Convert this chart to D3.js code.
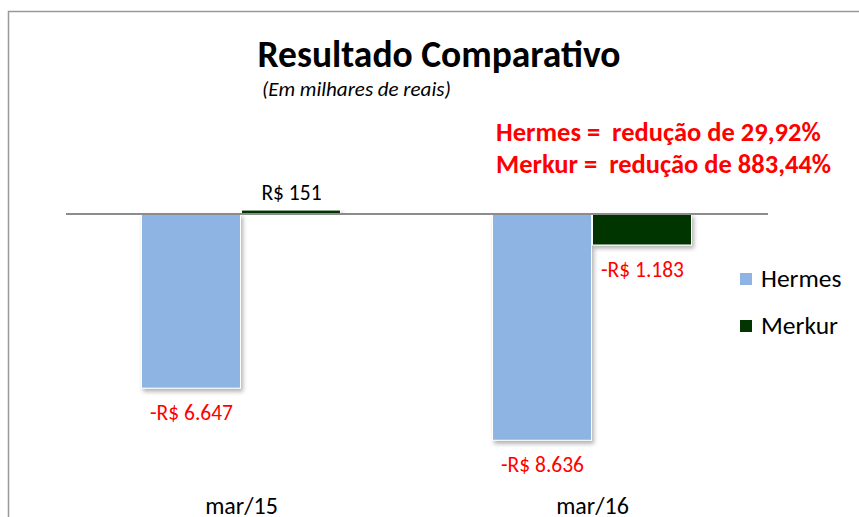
<!DOCTYPE html>
<html>
<head>
<meta charset="utf-8">
<script src="https://cdn.jsdelivr.net/npm/d3@7"></script>
<style>
  body { margin: 0; background: #fff; }
  text { font-family: Carlito, Lato, "Open Sans", sans-serif; }
</style>
</head>
<body>
<script>
// data
let categories = ["mar/15", "mar/16"];
let seriesNames = ["Hermes", "Merkur"];
let hermesValues = [-6647, -8636];
let merkurValues = [151, -1183];
let valueLabels = [["-R$ 6.647", "-R$ 8.636"], ["R$ 151", "-R$ 1.183"]];
let notes = ["Hermes =  redução de 29,92%", "Merkur =  redução de 883,44%"];
let colors = ["#8EB4E3", "#033503"];

var width = 859, height = 517;

var svg = d3.select("body").append("svg")
    .attr("width", width)
    .attr("height", height);

var defs = svg.append("defs");
var f = defs.append("filter").attr("id", "shadow")
    .attr("x", "-10%").attr("y", "-10%").attr("width", "130%").attr("height", "130%");
f.append("feDropShadow").attr("dx", 2).attr("dy", 3).attr("stdDeviation", 2)
    .attr("flood-color", "#000").attr("flood-opacity", 0.3);

// outer frame
svg.append("rect")
    .attr("x", 8.5).attr("y", 11.5)
    .attr("width", 900).attr("height", 600)
    .attr("fill", "none").attr("stroke", "#999").attr("stroke-width", 1.5);

var x0 = d3.scaleBand().domain(categories).range([66, 768]);
var x1 = d3.scaleBand().domain(seriesNames).range([0, 200]);
var y = d3.scaleLinear().domain([-10000, 1000]).range([476, 187.8]);

var series = [hermesValues, merkurValues];
var rows = [];
series.forEach(function(vals, s) {
  vals.forEach(function(v, i) {
    rows.push({s: s, cat: categories[i], v: v, label: valueLabels[s][i]});
  });
});

var g = svg.append("g");

g.selectAll("rect.bar").data(rows).enter().append("rect")
    .attr("class", "bar")
    .attr("x", d => x0(d.cat) + x0.bandwidth() / 2 - 100 + x1(seriesNames[d.s]))
    .attr("y", d => y(Math.max(0, d.v)))
    .attr("width", x1.bandwidth() - 1)
    .attr("height", d => Math.abs(y(d.v) - y(0)))
    .attr("fill", d => colors[d.s])
    .attr("stroke", "#fff").attr("stroke-width", 1)
    .attr("filter", "url(#shadow)");

// zero line
svg.append("line")
    .attr("x1", 66).attr("x2", 768)
    .attr("y1", y(0)).attr("y2", y(0))
    .attr("stroke", "#8c8c8c").attr("stroke-width", 2);

g.selectAll("text.val").data(rows).enter().append("text")
    .attr("class", "val")
    .attr("x", d => x0(d.cat) + x0.bandwidth() / 2 - 100 + x1(seriesNames[d.s]) + x1.bandwidth() / 2)
    .attr("y", d => d.v < 0 ? y(d.v) + 32 : y(d.v) - 10)
    .attr("text-anchor", "middle")
    .attr("font-size", 21.5)
    .attr("fill", d => d.v < 0 ? "#ff0000" : "#000")
    .text(d => d.label);

// category labels
svg.selectAll("text.cat").data(categories).enter().append("text")
    .attr("class", "cat")
    .attr("x", d => x0(d) + x0.bandwidth() / 2)
    .attr("y", 514)
    .attr("text-anchor", "middle")
    .attr("font-size", 24)
    .text(d => d);

// titles
svg.append("text")
    .attr("x", 439).attr("y", 67)
    .attr("text-anchor", "middle")
    .attr("font-size", 37.5).attr("font-weight", "bold")
    .text("Resultado Comparativo");
svg.append("text")
    .attr("x", 262).attr("y", 96)
    .attr("font-size", 21).attr("font-style", "italic")
    .text("(Em milhares de reais)");

svg.selectAll("text.note").data(notes).enter().append("text")
    .attr("class", "note")
    .attr("x", 496)
    .attr("y", (d, i) => 141 + i * 32)
    .attr("font-size", 26.5).attr("font-weight", "bold")
    .attr("fill", "#ff0000")
    .attr("xml:space", "preserve")
    .style("white-space", "pre")
    .text(d => d);

// legend
var leg = svg.selectAll("g.leg").data(seriesNames).enter().append("g")
    .attr("class", "leg")
    .attr("transform", (d, i) => "translate(740," + (273 + i * 47) + ")");
leg.append("rect").attr("width", 12).attr("height", 12)
    .attr("fill", (d, i) => colors[i]);
leg.append("text").attr("x", 21).attr("y", 14)
    .attr("font-size", 25.5)
    .text(d => d);
</script>
</body>
</html>
